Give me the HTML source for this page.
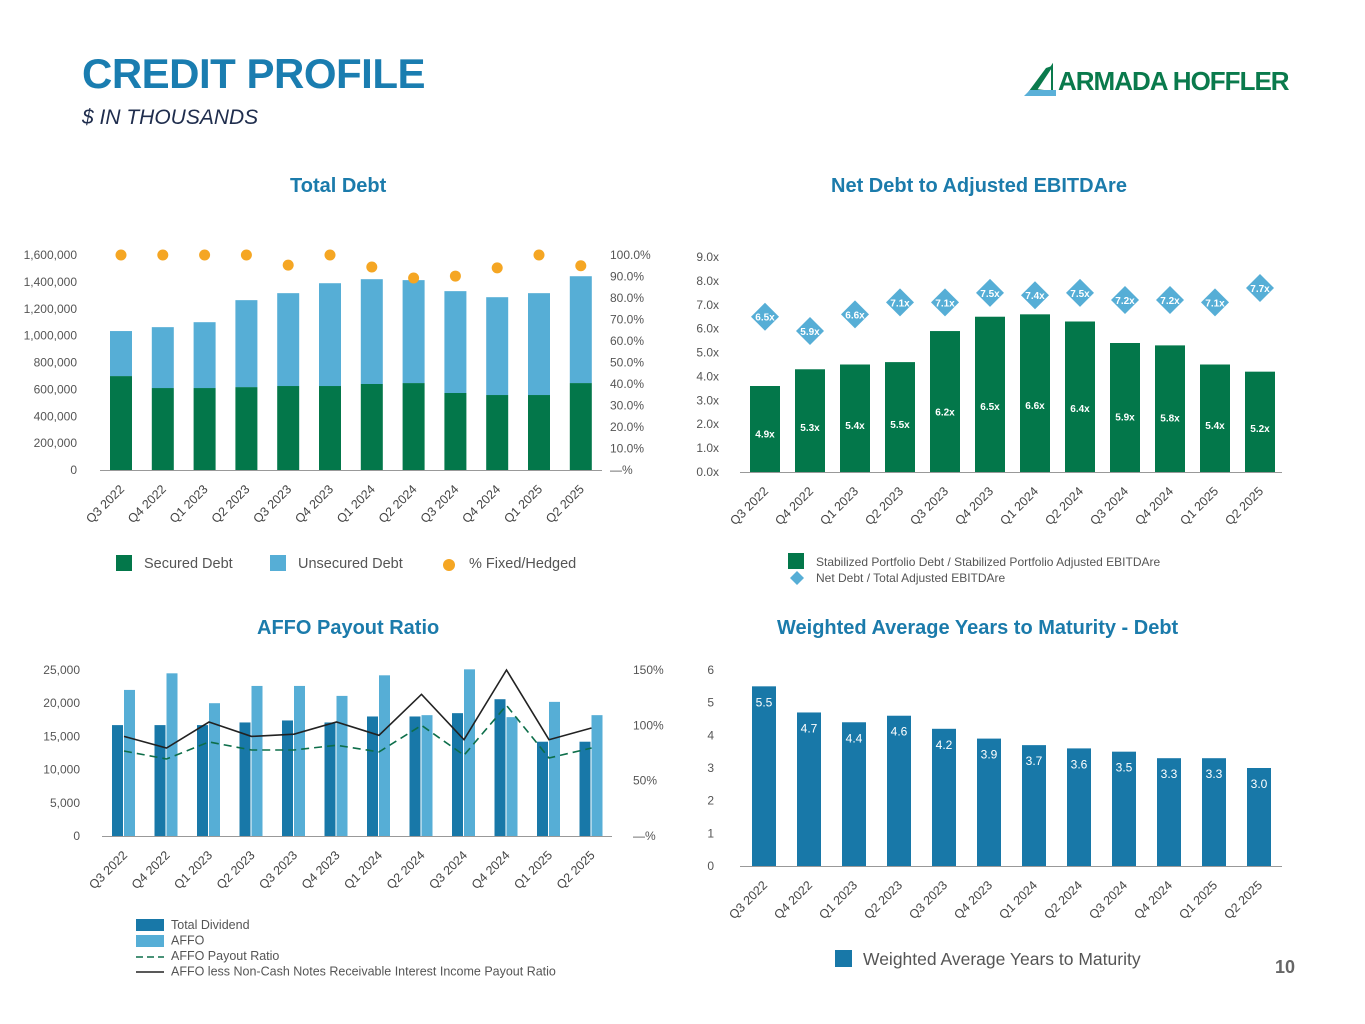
<!DOCTYPE html>
<html><head><meta charset="utf-8"><style>
body{margin:0;width:1365px;height:1024px;background:#fff;font-family:"Liberation Sans",sans-serif;overflow:hidden;position:relative}
.t{position:absolute;color:#1b7bab;font-weight:bold;white-space:nowrap}
svg text{font-family:"Liberation Sans",sans-serif}
</style></head><body>
<div class="t" style="left:82px;top:50px;font-size:42px;color:#1a7db0;letter-spacing:-0.5px">CREDIT PROFILE</div>
<div style="position:absolute;left:82px;top:106px;font-size:21px;font-style:italic;color:#1f2d4d">$ IN THOUSANDS</div>
<div style="position:absolute;left:1022px;top:62px;width:290px;height:36px;white-space:nowrap">
<svg width="40" height="36" style="position:absolute;left:0;top:0"><polygon points="4,33 24,6 30,4 14,28" fill="#0a7a4c"/><polygon points="14,28 30,4 30,30" fill="none" stroke="#0a7a4c" stroke-width="2"/><polygon points="2,34 34,34 34,28 8,28" fill="#5ab0d8"/></svg>
<span style="position:absolute;left:36px;top:4px;font-size:26px;font-weight:bold;color:#0a7a4c;letter-spacing:-1px">ARMADA HOFFLER</span></div>
<div class="t" style="left:290px;top:175px;font-size:20px">Total Debt</div>
<div class="t" style="left:831px;top:175px;font-size:20px">Net Debt to Adjusted EBITDAre</div>
<div class="t" style="left:257px;top:617px;font-size:20px">AFFO Payout Ratio</div>
<div class="t" style="left:777px;top:617px;font-size:20px">Weighted Average Years to Maturity - Debt</div>
<div style="position:absolute;left:1275px;top:957px;font-size:18px;font-weight:bold;color:#666">10</div>
<svg id="c" width="1365" height="1024" style="position:absolute;left:0;top:0"></svg>
<script>
const quarters=["Q3 2022","Q4 2022","Q1 2023","Q2 2023","Q3 2023","Q4 2023","Q1 2024","Q2 2024","Q3 2024","Q4 2024","Q1 2025","Q2 2025"];
const securedDebt=[699000,610000,610000,617000,625000,625000,640000,647000,573000,558000,558000,647000];
const totalDebt=[1034000,1063000,1100000,1264000,1316000,1390000,1420000,1413000,1331000,1286000,1316000,1442000];
const fixedHedged=[100,100,100,100,95.3,100,94.4,89.3,90.2,94,100,95];
const debtTicks=[0,200000,400000,600000,800000,1000000,1200000,1400000,1600000];
const pctTicks=[0,10,20,30,40,50,60,70,80,90,100];
const stabilized=[3.6,4.3,4.5,4.6,5.9,6.5,6.6,6.3,5.4,5.3,4.5,4.2];
const stabilizedLabels=["4.9x","5.3x","5.4x","5.5x","6.2x","6.5x","6.6x","6.4x","5.9x","5.8x","5.4x","5.2x"];
const netDebt=[6.5,5.9,6.6,7.1,7.1,7.5,7.4,7.5,7.2,7.2,7.1,7.7];
const totalDividend=[16700,16700,16700,17100,17400,17100,18000,18000,18500,20600,14200,14200];
const affo=[22000,24500,20000,22600,22600,21100,24200,18200,25100,17900,20200,18200];
const affoRatio=[76.8,69.6,85,77.7,77.7,82,76,100,73,118,70.5,79.5];
const affoLessRatio=[90,79.5,103,90,92,103,91,128,87,150,87,97.6];
const affoTicks=[0,5000,10000,15000,20000,25000];
const ratioTicks=[0,50,100,150];
const maturity=[5.5,4.7,4.4,4.6,4.2,3.9,3.7,3.6,3.5,3.3,3.3,3.0];
const matTicks=[0,1,2,3,4,5,6];

const svg=document.getElementById('c');const NS="http://www.w3.org/2000/svg";
function el(tag,a,txt){const e=document.createElementNS(NS,tag);for(const k in a)e.setAttribute(k,a[k]);if(txt!==undefined)e.textContent=txt;svg.appendChild(e);return e;}
function lin(d0,d1,r0,r1){return v=>r0+(v-d0)*(r1-r0)/(d1-d0);}
function xlabels(xf,y){quarters.forEach((q,i)=>{const t=el('text',{x:xf(i)+4,y:y,'text-anchor':'end','font-size':12.5,fill:'#444',transform:`rotate(-45 ${xf(i)+4} ${y})`},q);
});}

{const x=i=>121+i*41.8, y=lin(0,1600000,470,255), yp=lin(0,100,470,255);
debtTicks.forEach(v=>{const t=el('text',{x:77,y:y(v)+4,'text-anchor':'end','font-size':12,fill:'#555'},v.toLocaleString('en-US'));});
pctTicks.forEach(v=>{const t=el('text',{x:610,y:yp(v)+4,'font-size':12,fill:'#555'},v===0?'—%':v.toFixed(1)+'%');});
quarters.forEach((q,i)=>{
const b=el('rect',{x:x(i)-11,y:y(securedDebt[i]),width:22,height:y(0)-y(securedDebt[i]),fill:'#03774a'});
const u=el('rect',{x:x(i)-11,y:y(totalDebt[i]),width:22,height:y(securedDebt[i])-y(totalDebt[i]),fill:'#56aed6'});
const d=el('circle',{cx:x(i),cy:yp(fixedHedged[i]),r:5.5,fill:'#f5a623'});});
el('line',{x1:100,x2:602,y1:470.5,y2:470.5,stroke:'#999'});
xlabels(x,490);
[[116,'#03774a','Secured Debt','rect'],[270,'#56aed6','Unsecured Debt','rect'],[442,'#f5a623','% Fixed/Hedged','c']].forEach(([lx,c,t,s])=>{
if(s==='rect')el('rect',{x:lx,y:555,width:16,height:16,fill:c});else el('circle',{cx:lx+7,cy:565,r:6,fill:c});
const l=el('text',{x:lx+(s==='rect'?28:27),y:568,'font-size':14.5,fill:'#555'},t);});}

{const x=i=>765+i*45, y=lin(0,9,472,257);
for(let v=0;v<=9;v++){const t=el('text',{x:719,y:y(v)+4,'text-anchor':'end','font-size':12,fill:'#555'},v.toFixed(1)+'x');}
quarters.forEach((q,i)=>{
const b=el('rect',{x:x(i)-15,y:y(stabilized[i]),width:30,height:y(0)-y(stabilized[i]),fill:'#03774a'});
el('text',{x:x(i),y:y(stabilized[i])+Math.min(95,(y(0)-y(stabilized[i]))*0.6),'text-anchor':'middle','font-size':10,'font-weight':'bold',fill:'#fff'},stabilizedLabels[i]);
const cy=y(netDebt[i]);const d=el('polygon',{points:`${x(i)},${cy-14} ${x(i)+14},${cy} ${x(i)},${cy+14} ${x(i)-14},${cy}`,fill:'#56aed6'});
el('text',{x:x(i),y:cy+4,'text-anchor':'middle','font-size':10,'font-weight':'bold',fill:'#fff'},netDebt[i].toFixed(1)+'x');});
el('line',{x1:740,x2:1282,y1:472.5,y2:472.5,stroke:'#999'});
xlabels(x,492);
el('rect',{x:788,y:553,width:16,height:16,fill:'#03774a'});
el('polygon',{points:'797,571 804,578 797,585 790,578',fill:'#56aed6'});
const l1=el('text',{x:816,y:566,'font-size':12,fill:'#555'},'Stabilized Portfolio Debt / Stabilized Portfolio Adjusted EBITDAre');
const l2=el('text',{x:816,y:582,'font-size':12,fill:'#555'},'Net Debt / Total Adjusted EBITDAre');}

{const x=i=>124+i*42.5, y=lin(0,25000,836,670), yr=lin(0,150,836,670);
affoTicks.forEach(v=>{const t=el('text',{x:80,y:y(v)+4,'text-anchor':'end','font-size':12,fill:'#555'},v.toLocaleString('en-US'));});
ratioTicks.forEach(v=>{const t=el('text',{x:633,y:yr(v)+4,'font-size':12,fill:'#555'},v===0?'—%':v+'%');});
quarters.forEach((q,i)=>{
const a=el('rect',{x:x(i)-12,y:y(totalDividend[i]),width:11,height:y(0)-y(totalDividend[i]),fill:'#1878a8'});
const b=el('rect',{x:x(i),y:y(affo[i]),width:11,height:y(0)-y(affo[i]),fill:'#56aed6'});});
const p1=el('polyline',{points:affoRatio.map((v,i)=>`${x(i)},${yr(v)}`).join(' '),fill:'none',stroke:'#0d6e4a','stroke-width':1.6,'stroke-dasharray':'8,5'});
const p2=el('polyline',{points:affoLessRatio.map((v,i)=>`${x(i)},${yr(v)}`).join(' '),fill:'none',stroke:'#222','stroke-width':1.6});
el('line',{x1:102,x2:612,y1:836.5,y2:836.5,stroke:'#999'});
xlabels(x,856);
el('rect',{x:136,y:919,width:28,height:12,fill:'#1878a8'});
el('rect',{x:136,y:935,width:28,height:12,fill:'#56aed6'});
el('line',{x1:136,x2:164,y1:957,y2:957,stroke:'#0d6e4a','stroke-width':1.5,'stroke-dasharray':'7,4'});
el('line',{x1:136,x2:164,y1:972,y2:972,stroke:'#222','stroke-width':1.5});
['Total Dividend','AFFO','AFFO Payout Ratio','AFFO less Non-Cash Notes Receivable Interest Income Payout Ratio'].forEach((t,k)=>{const l=el('text',{x:171,y:929+k*15.5,'font-size':12.5,fill:'#555'},t);});}

{const x=i=>764+i*45, y=lin(0,6,866,670);
matTicks.forEach(v=>{const t=el('text',{x:714,y:y(v)+4,'text-anchor':'end','font-size':12,fill:'#555'},v);});
quarters.forEach((q,i)=>{const b=el('rect',{x:x(i)-12,y:y(maturity[i]),width:24,height:y(0)-y(maturity[i]),fill:'#1878a8'});
el('text',{x:x(i),y:y(maturity[i])+20,'text-anchor':'middle','font-size':12,fill:'#fff'},maturity[i].toFixed(1));});
el('line',{x1:740,x2:1282,y1:866.5,y2:866.5,stroke:'#999'});
xlabels(x,886);
el('rect',{x:835,y:950,width:17,height:17,fill:'#1878a8'});
const l=el('text',{x:863,y:965,'font-size':17.5,fill:'#555'},'Weighted Average Years to Maturity');}
</script>
</body></html>
